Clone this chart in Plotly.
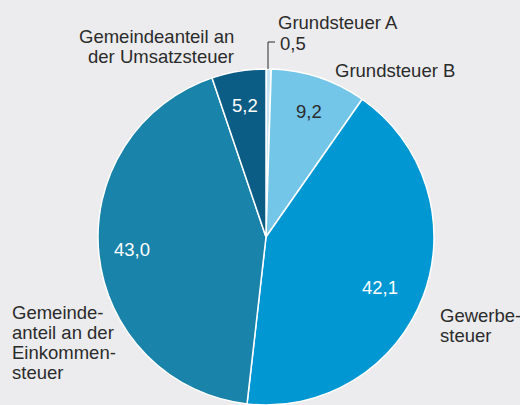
import plotly.graph_objects as go

categories = ["Grundsteuer A", "Grundsteuer B", "Gewerbesteuer",
              "Gemeindeanteil an der Einkommensteuer", "Gemeindeanteil an der Umsatzsteuer"]
values = [0.5, 9.2, 42.1, 43.0, 5.2]
colors = ["#c6e6f5", "#73c6e8", "#0097d3", "#1a83aa", "#0b5d85"]
value_text = [f"{v:.1f}".replace(".", ",") for v in values]

W, H = 520, 405
BG = "#ececee"
TXT = "#2b2b2b"
FONT = "Liberation Sans, Arial, sans-serif"
FS = 18.5

def px(x):
    return x / W

def py(y):
    return 1 - y / H

fig = go.Figure(go.Pie(
    labels=categories,
    values=values,
    sort=False,
    direction="clockwise",
    rotation=0,
    marker=dict(colors=colors, line=dict(color="white", width=1.5)),
    textinfo="none",
    hoverinfo="label+value",
    showlegend=False,
    domain=dict(x=[px(98), px(434)], y=[0, py(69)]),
))

ann = []
val_pos = [(278, 43, TXT, "left"), (309, 111, TXT, "center"), (380, 287, "white", "center"),
           (132, 249, "white", "center"), (245, 105, "white", "center")]
for t, (x, y, c, al) in zip(value_text, val_pos):
    ann.append(dict(x=px(x), y=py(y), text=t, showarrow=False,
                    xanchor="center" if al == "center" else "left", yanchor="middle",
                    font=dict(size=FS, color=c, family=FONT)))

label_lines = [
    ("Grundsteuer A", 276, 22, "left"),
    ("Grundsteuer B", 333, 70, "left"),
    ("Gewerbe-", 438, 315, "left"),
    ("steuer", 438, 335, "left"),
    ("Gemeinde-", 10, 312, "left"),
    ("anteil an der", 10, 332, "left"),
    ("Einkommen-", 10, 352, "left"),
    ("steuer", 10, 372, "left"),
    ("Gemeindeanteil an", 236, 36, "right"),
    ("der Umsatzsteuer", 236, 57, "right"),
]
for t, x, y, al in label_lines:
    ann.append(dict(x=px(x), y=py(y), text=t, showarrow=False, xanchor=al, yanchor="middle",
                    font=dict(size=FS, color=TXT, family=FONT)))

fig.update_layout(
    width=W, height=H,
    margin=dict(l=0, r=0, t=0, b=0),
    paper_bgcolor=BG, plot_bgcolor=BG,
    annotations=ann,
    shapes=[dict(type="path", xref="paper", yref="paper",
                 path=f"M {px(268)} {py(69)} L {px(268)} {py(42)} L {px(275)} {py(42)}",
                 line=dict(color=TXT, width=1))],
)

fig.write_html("out.html", config={"displayModeBar": False},
               post_script="document.body.style.margin='0';document.body.style.overflow='hidden';")
